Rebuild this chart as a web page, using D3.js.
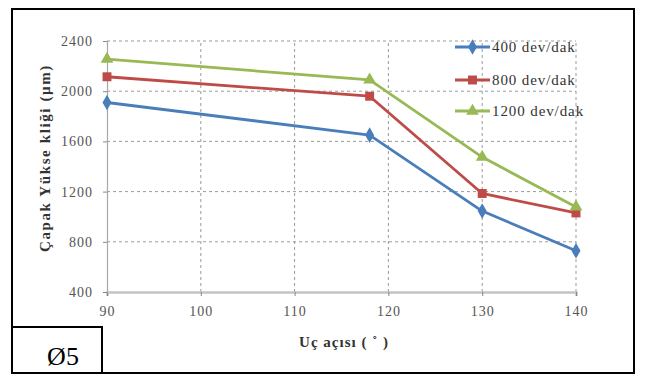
<!DOCTYPE html>
<html><head><meta charset="utf-8">
<script src="https://cdn.jsdelivr.net/npm/d3@7"></script>
<style>body{margin:0;background:#fff;}svg{display:block;}</style>
</head><body>
<svg id="c" width="647" height="374"></svg>
<script>
const angles = [90, 118, 130, 140];
const s400 = [1910, 1650, 1045, 728];
const s800 = [2115, 1960, 1185, 1030];
const s1200 = [2255, 2090, 1475, 1078];
const seriesNames = ["400 dev/dak", "800 dev/dak", "1200 dev/dak"];
const xTicks = [90, 100, 110, 120, 130, 140];
const yTicks = [400, 800, 1200, 1600, 2000, 2400];

const colors = ["#4a7ebb", "#be4b48", "#98b954"];
const symbols = [d3.symbolDiamond, d3.symbolSquare, d3.symbolTriangle];
const symSizes = [70, 80, 70];
const series = [s400, s800, s1200];

const svg = d3.select("#c");
const font = "'Liberation Serif', 'Times New Roman', serif";
const x = d3.scaleLinear().domain([90, 140]).range([107, 576]);
const y = d3.scaleLinear().domain([400, 2400]).range([292, 41]);

// outer frame
svg.append("rect").attr("x", 12).attr("y", 9).attr("width", 622).attr("height", 364)
  .attr("fill", "none").attr("stroke", "#000").attr("stroke-width", 2);

// grid
const g = svg.append("g");
g.selectAll(".hg").data(yTicks.slice(1)).enter().append("line")
  .attr("x1", x(90)).attr("x2", x(140)).attr("y1", d => y(d)).attr("y2", d => y(d))
  .attr("stroke", "#9a9a9a").attr("stroke-width", 1).attr("stroke-dasharray", "3,3");
g.selectAll(".vg").data(xTicks.slice(1)).enter().append("line")
  .attr("x1", d => x(d)).attr("x2", d => x(d)).attr("y1", y(400)).attr("y2", y(2400))
  .attr("stroke", "#9a9a9a").attr("stroke-width", 1).attr("stroke-dasharray", "3,3");

// axes
const xAxis = d3.axisBottom(x).tickValues(xTicks).tickSize(4).tickPadding(8).tickFormat(d3.format("d"));
const yAxis = d3.axisLeft(y).tickValues(yTicks).tickSize(4).tickPadding(10).tickFormat(d3.format("d"));
const gx = svg.append("g").attr("transform", `translate(0,${y(400)})`).call(xAxis);
const gy = svg.append("g").attr("transform", `translate(${x(90)},0)`).call(yAxis);
gx.select(".domain").attr("stroke", "#c4c4c4").attr("stroke-width", 2.5);
gy.select(".domain").attr("stroke", "#a8a8a8").attr("stroke-width", 1.2);
[gx, gy].forEach(a => {
  a.selectAll(".tick line").attr("stroke", "#888");
  a.selectAll(".tick text").attr("fill", "#555").style("font-family", font)
    .style("font-size", "14px").style("letter-spacing", "1px");
});
gx.selectAll(".tick text").attr("dy", "0.85em");

// lines and markers
const line = d3.line().x((d, i) => x(angles[i])).y(d => y(d));
series.forEach((s, k) => {
  svg.append("path").datum(s).attr("d", line).attr("fill", "none")
    .attr("stroke", colors[k]).attr("stroke-width", 2.8).attr("stroke-linejoin", "round");
});
series.forEach((s, k) => {
  svg.selectAll(null).data(s).enter().append("path")
    .attr("d", d3.symbol().type(symbols[k]).size(symSizes[k]))
    .attr("transform", (d, i) => `translate(${x(angles[i])},${y(d)})`)
    .attr("fill", colors[k]);
});

// legend
const legY = [47, 80, 111];
seriesNames.forEach((n, k) => {
  const lg = svg.append("g");
  lg.append("line").attr("x1", 455).attr("x2", 490).attr("y1", legY[k]).attr("y2", legY[k])
    .attr("stroke", colors[k]).attr("stroke-width", 2.8);
  lg.append("path").attr("d", d3.symbol().type(symbols[k]).size(symSizes[k]))
    .attr("transform", `translate(472.5,${legY[k]})`).attr("fill", colors[k]);
  lg.append("text").attr("x", 492).attr("y", legY[k] + 5).text(n)
    .style("font-family", font).style("font-size", "15px").style("letter-spacing", "0.9px").attr("fill", "#333");
});

// axis titles
svg.append("text").attr("transform", `translate(50,158) rotate(-90)`)
  .attr("text-anchor", "middle").text("Çapak Yükse kliği (µm)")
  .style("font-family", font).style("font-size", "15px").style("font-weight", "bold")
  .style("letter-spacing", "1.6px").attr("fill", "#333");
svg.append("text").attr("x", 344).attr("y", 347).attr("text-anchor", "middle")
  .text("Uç açısı ( ˚ )")
  .style("font-family", font).style("font-size", "15px").style("font-weight", "bold")
  .style("letter-spacing", "1px").attr("fill", "#333");

// Ø5 box
svg.append("rect").attr("x", 12).attr("y", 327).attr("width", 90).attr("height", 46)
  .attr("fill", "#fff").attr("stroke", "#000").attr("stroke-width", 2);
svg.append("text").attr("x", 63).attr("y", 365).attr("text-anchor", "middle").text("Ø5")
  .style("font-family", font).style("font-size", "26px").attr("fill", "#000");
</script>
</body></html>
